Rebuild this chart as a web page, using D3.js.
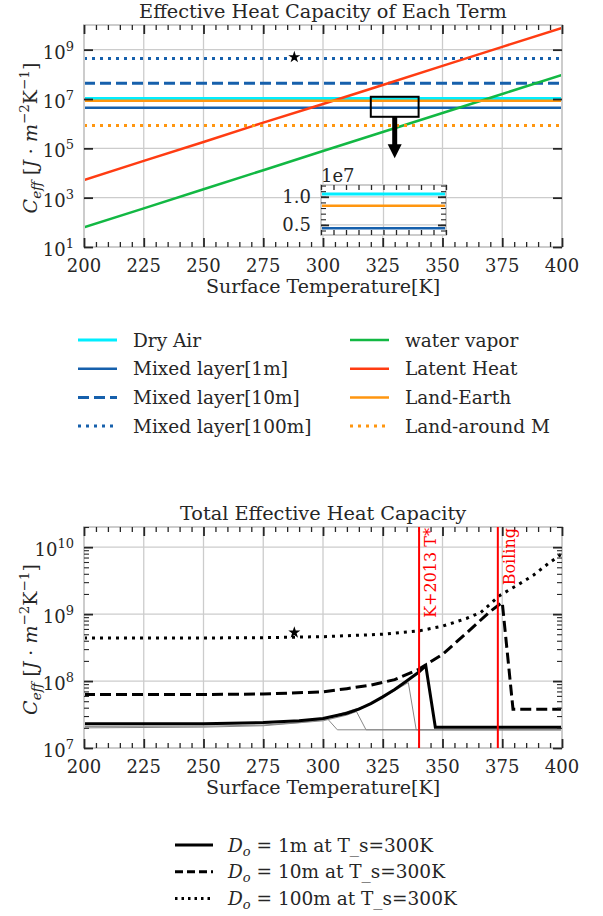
<!DOCTYPE html>
<html>
<head>
<meta charset="utf-8">
<script src="https://d3js.org/d3.v7.min.js"></script>
<style>
  body { margin: 0; background: #fff; }
  text { font-family: "DejaVu Serif", serif; fill: #262626; }
</style>
</head>
<body>
<svg id="vis" width="603" height="916"></svg>
<script>
    var svg = d3.select("#vis");
    var ink = "#262626";

    // ---------- data: top panel ----------
    var xTicks = [200, 225, 250, 275, 300, 325, 350, 375, 400];
    var tFlat = [200, 400];
    var dryAir = [1.05e7, 1.05e7];
    var mixed1m = [4.4e6, 4.4e6];
    var mixed10m = [4.4e7, 4.4e7];
    var mixed100m = [4.4e8, 4.4e8];
    var landEarth = [8.4e6, 8.4e6];
    var landAround = [8.5e5, 8.5e5];
    var tVapor = [200, 225, 250, 275, 300, 325, 350, 375, 400];
    var waterVapor = [63, 370, 2.2e3, 1.3e4, 7.8e4, 4.6e5, 2.7e6, 1.6e7, 9.5e7];
    var latentHeat = [5.2e3, 3.1e4, 1.8e5, 1.1e6, 6.3e6, 3.7e7, 2.2e8, 1.3e9, 7.6e9];
    var topYTicks = [1e1, 1e3, 1e5, 1e7, 1e9];
    var topStar = [288, 5e8];
    var zoomT = [320, 340];
    var zoomC = [1.9e6, 1.23e7];
    var insetC = [0.32e7, 1.21e7];
    var insetYTicks = [0.5e7, 1.0e7];
    var insetYLabels = ["0.5", "1.0"];
    var arrowT = 330;
    var arrowC = [1.9e6, 4e4];

    // ---------- data: bottom panel ----------
    var t1m = [200, 250, 275, 290, 300, 310, 315, 320, 325, 330, 335, 340, 343, 347, 400];
    var total1m = [2.3e7, 2.3e7, 2.4e7, 2.55e7, 2.75e7, 3.3e7, 3.8e7, 4.6e7, 5.8e7, 7.5e7, 1.0e8, 1.35e8, 1.7e8, 2.05e7, 2.05e7];
    var t10m = [200, 250, 275, 300, 310, 320, 330, 340, 350, 360, 370, 375, 379.5, 400];
    var total10m = [6.3e7, 6.3e7, 6.4e7, 6.9e7, 7.7e7, 8.7e7, 1.05e8, 1.5e8, 2.5e8, 5.2e8, 1.1e9, 1.5e9, 3.8e7, 3.8e7];
    var t100m = [200, 250, 275, 300, 325, 340, 350, 360, 366, 374, 382, 388, 394, 400];
    var total100m = [4.4e8, 4.4e8, 4.45e8, 4.6e8, 5.0e8, 5.6e8, 6.6e8, 8.6e8, 1.06e9, 1.9e9, 2.8e9, 3.8e9, 5.6e9, 8.0e9];
    var tGrayA = [200, 250, 275, 290, 302, 306, 400];
    var grayA = [2.1e7, 2.12e7, 2.2e7, 2.4e7, 2.7e7, 1.87e7, 1.87e7];
    var tGrayB = [200, 250, 275, 300, 310, 314, 318, 400];
    var grayB = [2.0e7, 2.05e7, 2.15e7, 2.55e7, 3.1e7, 3.5e7, 1.87e7, 1.87e7];
    var tGrayC = [200, 250, 275, 300, 320, 330, 335.7, 339, 400];
    var grayC = [2.25e7, 2.27e7, 2.35e7, 2.7e7, 4.5e7, 7.2e7, 9.5e7, 1.87e7, 1.87e7];
    var botYTicks = [1e7, 1e8, 1e9, 1e10];
    var refT = [340.2, 373.15];
    var refLabels = ["K+2013 T*", "Boiling"];
    var botStar = [288, 5.3e8];

    function pts(t, v) { return t.map(function(d, i) { return [d, v[i]]; }); }

    // ---------- layout ----------
    var L = 84, R = 562;
    var x1 = d3.scaleLinear().domain([200, 400]).range([L, R]);
    var y1 = d3.scaleLog().domain([1e1, 1e10]).range([247, 25]);
    var x2 = d3.scaleLinear().domain([200, 400]).range([L, R]);
    var y2 = d3.scaleLog().domain([1e7, 2e10]).range([748, 527]);

    var topSeries = [
        {name: "Dry Air", t: tFlat, v: dryAir, color: "#00eeff", dash: null, w: 2.8},
        {name: "Mixed layer[1m]", t: tFlat, v: mixed1m, color: "#1660ac", dash: null, w: 2.5},
        {name: "Mixed layer[10m]", t: tFlat, v: mixed10m, color: "#1660ac", dash: "11,5", w: 3},
        {name: "Mixed layer[100m]", t: tFlat, v: mixed100m, color: "#1660ac", dash: "3,5", w: 3},
        {name: "water vapor", t: tVapor, v: waterVapor, color: "#12b843", dash: null, w: 2.5},
        {name: "Latent Heat", t: tVapor, v: latentHeat, color: "#ff3c12", dash: null, w: 2.5},
        {name: "Land-Earth", t: tFlat, v: landEarth, color: "#ff960f", dash: null, w: 2.5},
        {name: "Land-around M", t: tFlat, v: landAround, color: "#ff960f", dash: "3,5", w: 3}
    ];
    var botSeries = [
        {t: tGrayA, v: grayA, color: "#888", dash: null, w: 1},
        {t: tGrayB, v: grayB, color: "#888", dash: null, w: 1},
        {t: tGrayC, v: grayC, color: "#888", dash: null, w: 1},
        {name: "1m", t: t1m, v: total1m, color: "#000", dash: null, w: 3},
        {name: "10m", t: t10m, v: total10m, color: "#000", dash: "11,5", w: 3},
        {name: "100m", t: t100m, v: total100m, color: "#000", dash: "3,5", w: 3}
    ];

    var defs = svg.append("defs");
    function clip(id, x0, y0, w, h) {
        defs.append("clipPath").attr("id", id).append("rect")
            .attr("x", x0).attr("y", y0).attr("width", w).attr("height", h);
    }

    function addAxis(axis, ty, tx, w) {
        var g = svg.append("g").attr("transform", "translate(" + tx + "," + ty + ")")
            .call(axis.tickFormat(""));
        g.select(".domain").remove();
        g.selectAll(".tick line").attr("stroke", ink).attr("stroke-width", w);
        return g;
    }

    function panel(x, y, gridY, yMajor, yMinor, series, clipId) {
        var top = y.range()[1], bottom = y.range()[0];
        clip(clipId, L, top, R - L, bottom - top);
        var g = svg.append("g");
        g.selectAll(".vg").data(xTicks.slice(1, -1)).join("line")
            .attr("x1", function(d) { return x(d); }).attr("x2", function(d) { return x(d); })
            .attr("y1", top).attr("y2", bottom)
            .attr("stroke", "#cccccc").attr("stroke-width", 1.3);
        g.selectAll(".hg").data(gridY).join("line")
            .attr("x1", L).attr("x2", R)
            .attr("y1", function(d) { return y(d); }).attr("y2", function(d) { return y(d); })
            .attr("stroke", "#cccccc").attr("stroke-width", 1.3);

        var line = d3.line().x(function(d) { return x(d[0]); }).y(function(d) { return y(d[1]); });
        svg.append("g").attr("clip-path", "url(#" + clipId + ")")
            .selectAll("path").data(series).join("path")
            .attr("d", function(s) { return line(pts(s.t, s.v)); })
            .attr("fill", "none")
            .attr("stroke", function(s) { return s.color; })
            .attr("stroke-width", function(s) { return s.w; })
            .attr("stroke-dasharray", function(s) { return s.dash; });

        svg.append("rect").attr("x", L).attr("y", top).attr("width", R - L).attr("height", bottom - top)
            .attr("fill", "none").attr("stroke", "#cccccc").attr("stroke-width", 2);

        var minorX = d3.range(200, 401, 5).filter(function(d) { return d % 25; });
        addAxis(d3.axisBottom(x).tickValues(xTicks).tickSize(-9), bottom, 0, 1.8);
        addAxis(d3.axisBottom(x).tickValues(minorX).tickSize(-5), bottom, 0, 1.3);
        addAxis(d3.axisTop(x).tickValues(xTicks).tickSize(-9), top, 0, 1.8);
        addAxis(d3.axisTop(x).tickValues(minorX).tickSize(-5), top, 0, 1.3);
        addAxis(d3.axisLeft(y).tickValues(yMajor).tickSize(-9), 0, L, 1.8);
        addAxis(d3.axisRight(y).tickValues(yMajor).tickSize(-9), 0, R, 1.8);
        if (yMinor.length) {
            addAxis(d3.axisLeft(y).tickValues(yMinor).tickSize(-5), 0, L, 1.1);
            addAxis(d3.axisRight(y).tickValues(yMinor).tickSize(-5), 0, R, 1.1);
        }

        svg.append("g").selectAll("text").data(xTicks).join("text")
            .attr("x", function(d) { return x(d); }).attr("y", bottom + 25)
            .attr("text-anchor", "middle").style("font-size", "18px")
            .text(function(d) { return d; });

        var yl = svg.append("g").selectAll("text").data(yMajor).join("text")
            .attr("x", L - 10).attr("y", function(d) { return y(d) + 9; })
            .attr("text-anchor", "end").style("font-size", "18px");
        yl.append("tspan").text("10");
        yl.append("tspan").attr("dy", -8).style("font-size", "13px")
            .text(function(d) { return Math.round(Math.log10(d)); });

        svg.append("text").attr("x", (L + R) / 2).attr("y", bottom + 46)
            .attr("text-anchor", "middle").style("font-size", "19px")
            .text("Surface Temperature[K]");

        var yt = svg.append("text")
            .attr("transform", "translate(37," + ((top + bottom) / 2 + 2) + ") rotate(-90)")
            .attr("text-anchor", "middle").style("font-size", "19px");
        yt.append("tspan").style("font-style", "italic").text("C");
        yt.append("tspan").style("font-style", "italic").style("font-size", "13.5px").attr("dy", 4).text("eff");
        yt.append("tspan").attr("dy", -4).text(" [");
        yt.append("tspan").style("font-style", "italic").text("J");
        yt.append("tspan").text(" \u00b7 ");
        yt.append("tspan").style("font-style", "italic").text("m");
        yt.append("tspan").style("font-size", "13.5px").attr("dy", -8).text("\u22122");
        yt.append("tspan").attr("dy", 8).text("K");
        yt.append("tspan").style("font-size", "13.5px").attr("dy", -8).text("\u22121");
        yt.append("tspan").attr("dy", 8).text("]");
    }

    // ---------- top panel ----------
    panel(x1, y1, topYTicks.slice(1), topYTicks, [], topSeries, "clipTop");
    svg.append("text").attr("x", (L + R) / 2).attr("y", 18).attr("text-anchor", "middle")
        .style("font-size", "19.3px").text("Effective Heat Capacity of Each Term");

    svg.append("path").attr("d", d3.symbol().type(d3.symbolStar).size(45)())
        .attr("transform", "translate(" + x1(topStar[0]) + "," + y1(topStar[1]) + ")").attr("fill", "#000");

    // zoom rectangle + arrow
    svg.append("rect").attr("x", x1(zoomT[0])).attr("y", y1(zoomC[1]))
        .attr("width", x1(zoomT[1]) - x1(zoomT[0])).attr("height", y1(zoomC[0]) - y1(zoomC[1]))
        .attr("fill", "none").attr("stroke", "#000").attr("stroke-width", 2);
    var ax = x1(arrowT), a0 = y1(arrowC[0]), a1 = y1(arrowC[1]);
    svg.append("line").attr("x1", ax).attr("x2", ax).attr("y1", a0).attr("y2", a1 - 12)
        .attr("stroke", "#000").attr("stroke-width", 5);
    svg.append("path").attr("d", "M" + (ax - 7) + "," + (a1 - 14) + "L" + (ax + 7) + "," + (a1 - 14) + "L" + ax + "," + a1 + "Z")
        .attr("fill", "#000");

    // inset
    var xi = d3.scaleLinear().domain(zoomT).range([321, 446]);
    var yi = d3.scaleLinear().domain(insetC).range([235, 185]);
    clip("clipInset", 321, 185, 125, 50);
    svg.append("rect").attr("x", 321).attr("y", 185).attr("width", 125).attr("height", 50).attr("fill", "#fff");
    svg.append("line").attr("x1", xi(330)).attr("x2", xi(330)).attr("y1", 185).attr("y2", 235)
        .attr("stroke", "#cccccc").attr("stroke-width", 1.3);
    svg.selectAll(".ig").data(insetYTicks).join("line")
        .attr("x1", 321).attr("x2", 446).attr("y1", function(d) { return yi(d); }).attr("y2", function(d) { return yi(d); })
        .attr("stroke", "#cccccc").attr("stroke-width", 1.3);
    var iline = d3.line().x(function(d) { return xi(d[0]); }).y(function(d) { return yi(d[1]); });
    svg.append("g").attr("clip-path", "url(#clipInset)")
        .selectAll("path").data(topSeries).join("path")
        .attr("d", function(s) { return iline(pts(s.t, s.v)); })
        .attr("fill", "none")
        .attr("stroke", function(s) { return s.color; })
        .attr("stroke-width", function(s) { return s.w; })
        .attr("stroke-dasharray", function(s) { return s.dash; });
    svg.append("rect").attr("x", 321).attr("y", 185).attr("width", 125).attr("height", 50)
        .attr("fill", "none").attr("stroke", "#cccccc").attr("stroke-width", 2);
    var iMinorX = d3.range(320, 341, 2);
    var iMinorY = d3.range(0.4e7, 1.25e7, 0.1e7);
    addAxis(d3.axisBottom(xi).tickValues(iMinorX).tickSize(-5), 235, 0, 1.3);
    addAxis(d3.axisTop(xi).tickValues(iMinorX).tickSize(-5), 185, 0, 1.3);
    addAxis(d3.axisLeft(yi).tickValues(insetYTicks).tickSize(-8), 0, 321, 1.8);
    addAxis(d3.axisRight(yi).tickValues(insetYTicks).tickSize(-8), 0, 446, 1.8);
    addAxis(d3.axisLeft(yi).tickValues(iMinorY).tickSize(-5), 0, 321, 1.1);
    addAxis(d3.axisRight(yi).tickValues(iMinorY).tickSize(-5), 0, 446, 1.1);
    svg.selectAll(".il").data(insetYTicks).join("text")
        .attr("x", 311).attr("y", function(d) { return yi(d) + 6.5; })
        .attr("text-anchor", "end").style("font-size", "18px")
        .text(function(d, i) { return insetYLabels[i]; });
    svg.append("text").attr("x", 321).attr("y", 182).style("font-size", "18px").text("1e7");

    // top legend
    var lg = svg.append("g");
    topSeries.forEach(function(s, i) {
        var lx = i < 4 ? 78 : 350, ly = 340 + (i % 4) * 28.7;
        lg.append("line").attr("x1", lx).attr("x2", lx + 39).attr("y1", ly).attr("y2", ly)
            .attr("stroke", s.color).attr("stroke-width", s.w).attr("stroke-dasharray", s.dash);
        lg.append("text").attr("x", lx + 55).attr("y", ly + 6.5).style("font-size", "18.5px").text(s.name);
    });

    // ---------- bottom panel ----------
    var botMinor = [];
    [1e7, 1e8, 1e9].forEach(function(p) { for (var k = 2; k <= 9; k++) botMinor.push(k * p); });
    botMinor.push(2e10);
    panel(x2, y2, botYTicks.slice(1), botYTicks, botMinor, botSeries, "clipBot");
    svg.append("text").attr("x", (L + R) / 2).attr("y", 520).attr("text-anchor", "middle")
        .style("font-size", "19.3px").text("Total Effective Heat Capacity");

    refT.forEach(function(t, i) {
        svg.append("line").attr("x1", x2(t)).attr("x2", x2(t)).attr("y1", 527).attr("y2", 748)
            .attr("stroke", "#ff0000").attr("stroke-width", 2);
        svg.append("text")
            .attr("transform", "translate(" + (x2(t) + 17) + ",528) rotate(-90)")
            .attr("text-anchor", "end").style("font-size", "16px").style("fill", "#ff0000")
            .text(refLabels[i]);
    });

    svg.append("path").attr("d", d3.symbol().type(d3.symbolStar).size(45)())
        .attr("transform", "translate(" + x2(botStar[0]) + "," + y2(botStar[1]) + ")").attr("fill", "#000");

    // bottom legend
    var botLegend = botSeries.slice(3);
    botLegend.forEach(function(s, i) {
        var ly = 845 + i * 26.7;
        svg.append("line").attr("x1", 175).attr("x2", 213).attr("y1", ly).attr("y2", ly)
            .attr("stroke", s.color).attr("stroke-width", s.w)
            .attr("stroke-dasharray", s.dash ? (s.dash === "11,5" ? "8,4" : "2.5,4") : null);
        var tx = svg.append("text").attr("x", 228).attr("y", ly + 6.5).style("font-size", "18.5px");
        tx.append("tspan").style("font-style", "italic").text("D");
        tx.append("tspan").style("font-style", "italic").style("font-size", "13px").attr("dy", 4).text("o");
        tx.append("tspan").attr("dy", -4).text(" = " + s.name + " at T_s=300K");
    });
</script>
</body>
</html>
